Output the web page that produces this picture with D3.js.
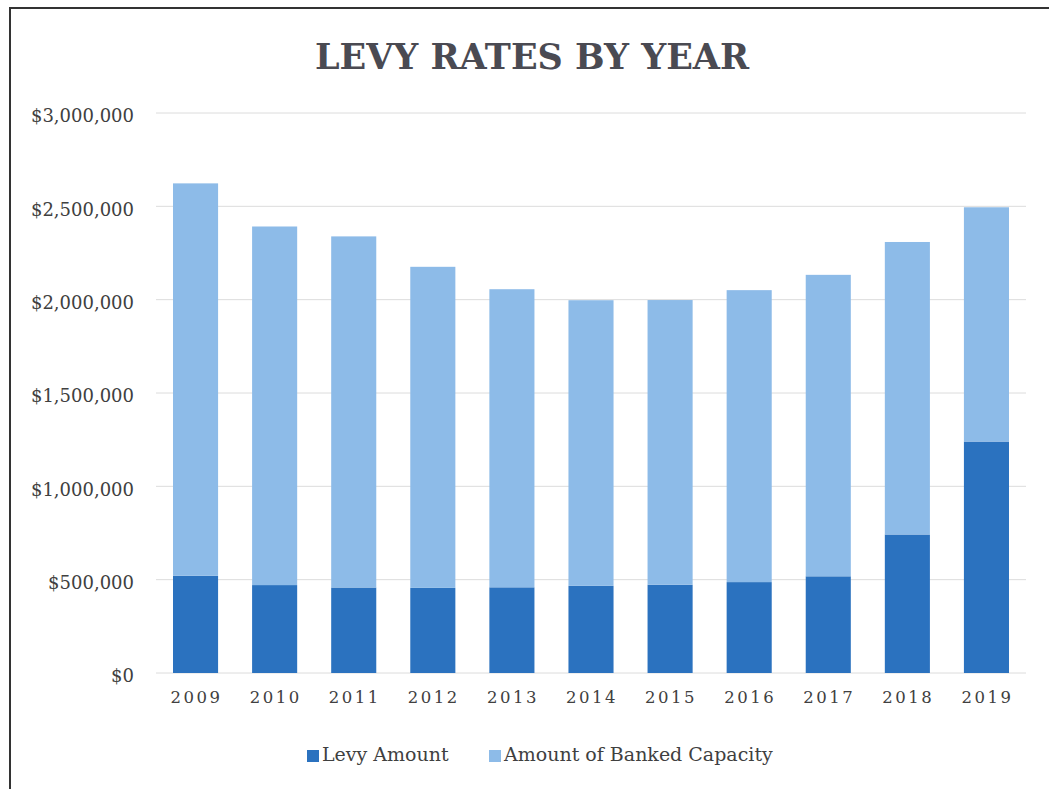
<!DOCTYPE html>
<html>
<head>
<meta charset="utf-8">
<script src="https://cdn.jsdelivr.net/npm/d3@7"></script>
<style>
  html, body { margin: 0; padding: 0; background: #ffffff; }
  svg { display: block; }
</style>
</head>
<body>
<svg id="chart" width="1049" height="789"></svg>
<script>
// Levy and banked capacity per year, in dollars
const years = ["2009", "2010", "2011", "2012", "2013", "2014", "2015", "2016", "2017", "2018", "2019"];
const levyAmount = [521000, 471000, 458000, 456000, 459000, 467000, 473000, 487000, 518000, 742000, 1240000];
const bankedCapacity = [2102000, 1921000, 1881000, 1720000, 1597000, 1530000, 1525000, 1564000, 1615000, 1567000, 1255000];
const seriesNames = ["Levy Amount", "Amount of Banked Capacity"];
const yTicks = [0, 500000, 1000000, 1500000, 2000000, 2500000, 3000000];

const W = 1049, H = 789;
const plotLeft = 156, plotRight = 1026, plotTop = 113, plotBottom = 673;
const colors = { "Levy Amount": "#2b72bf", "Amount of Banked Capacity": "#8dbbe8" };
const serif = "'DejaVu Serif', 'Liberation Serif', serif";
const textColor = "#404040";

const svg = d3.select("#chart");

// frame around the chart area
svg.append("rect")
  .attr("x", 10).attr("y", 8)
  .attr("width", W + 10).attr("height", H + 10)
  .attr("fill", "#ffffff")
  .attr("stroke", "#333333").attr("stroke-width", 2);

const x = d3.scaleBand().domain(years).range([plotLeft, plotRight]).paddingInner(0.43).paddingOuter(0.215);
const y = d3.scaleLinear().domain([0, 3000000]).range([plotBottom, plotTop]);

// gridlines
svg.append("g")
  .selectAll("line")
  .data(yTicks)
  .join("line")
  .attr("x1", plotLeft).attr("x2", plotRight)
  .attr("y1", d => y(d)).attr("y2", d => y(d))
  .attr("stroke", "#dcdcdc").attr("stroke-width", 1);

// y axis labels
const yAxis = d3.axisLeft(y).tickValues(yTicks).tickSize(0).tickPadding(0)
  .tickFormat(d => "$" + d3.format(",")(d));
const gy = svg.append("g").attr("transform", `translate(134,3)`).call(yAxis);
gy.select(".domain").remove();
gy.selectAll("text")
  .attr("font-family", serif).attr("font-size", 18).attr("fill", textColor);

// stacked bars
const rows = years.map((yr, i) => ({ year: yr, "Levy Amount": levyAmount[i], "Amount of Banked Capacity": bankedCapacity[i] }));
const stacked = d3.stack().keys(seriesNames)(rows);

svg.append("g")
  .selectAll("g")
  .data(stacked)
  .join("g")
  .attr("fill", d => colors[d.key])
  .selectAll("rect")
  .data(d => d)
  .join("rect")
  .attr("x", d => x(d.data.year))
  .attr("width", x.bandwidth())
  .attr("y", d => y(d[1]))
  .attr("height", d => y(d[0]) - y(d[1]));

// x axis labels
const xAxis = d3.axisBottom(x).tickSize(0).tickPadding(0);
const gx = svg.append("g").attr("transform", `translate(1,${plotBottom + 18})`).call(xAxis);
gx.select(".domain").remove();
gx.selectAll("text")
  .attr("font-family", serif).attr("font-size", 16.5).attr("fill", textColor)
  .attr("letter-spacing", "2.5px");

// title
svg.append("text")
  .attr("x", 532).attr("y", 69)
  .attr("text-anchor", "middle")
  .attr("font-family", serif).attr("font-weight", "bold")
  .attr("font-size", 35)
  .attr("fill", "#4a4a52")
  .text("LEVY RATES BY YEAR");

// legend
const legendItems = [
  { name: seriesNames[0], x: 307 },
  { name: seriesNames[1], x: 489 }
];
const lg = svg.append("g").selectAll("g").data(legendItems).join("g")
  .attr("transform", d => `translate(${d.x},761)`);
lg.append("rect")
  .attr("x", 0).attr("y", -11).attr("width", 12).attr("height", 12)
  .attr("fill", d => colors[d.name]);
lg.append("text")
  .attr("x", 15).attr("y", 0)
  .attr("font-family", serif).attr("font-size", 19).attr("fill", textColor)
  .text(d => d.name);
</script>
</body>
</html>
